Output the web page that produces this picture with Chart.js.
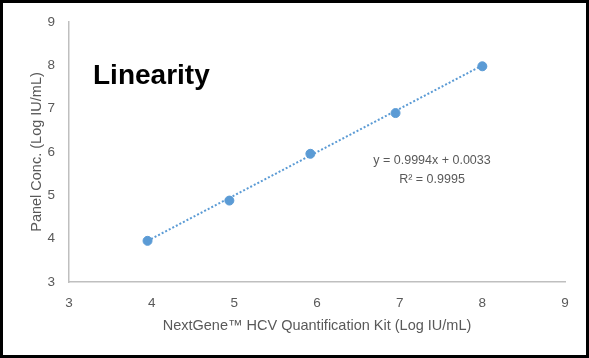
<!DOCTYPE html>
<html><head><meta charset="utf-8">
<script src="https://cdn.jsdelivr.net/npm/chart.js@4/dist/chart.umd.min.js"></script>
<style>html,body{margin:0;padding:0;background:#fff}#wrap{width:589px;height:358px;position:relative}</style>
</head><body><div id="wrap"><canvas id="c" width="589" height="358"></canvas></div>
<script>
const kitValues = [3.95, 4.94, 5.92, 6.95, 8.00];
const panelValues = [3.95, 4.88, 5.96, 6.90, 7.98];
const trendX = [3.95, 8.00];
const trendY = [3.95, 8.00];
const tickValues = [3, 4, 5, 6, 7, 8, 9];
const xTitle = 'NextGene™ HCV Quantification Kit (Log IU/mL)';
const yTitle = 'Panel Conc. (Log IU/mL)';
const chartTitle = 'Linearity';
const eqLines = ['y = 0.9994x + 0.0033', 'R² = 0.9995'];

const font = "'Liberation Sans', Arial, sans-serif";
const gray = '#595959';
const blue = '#5b9bd5';

const overlay = {
  id: 'overlay',
  afterDraw(chart) {
    const ctx = chart.ctx;
    const a = chart.chartArea;
    ctx.save();
    ctx.fillStyle = '#000';
    ctx.font = "bold 28px " + font;
    ctx.textBaseline = 'alphabetic';
    ctx.textAlign = 'left';
    ctx.fillText(chartTitle, 93, 84);
    ctx.fillStyle = gray;
    ctx.font = "12.5px " + font;
    ctx.textAlign = 'center';
    ctx.fillText(eqLines[0], 432, 164);
    ctx.fillText(eqLines[1], 432, 183);
    // axis titles
    ctx.font = "14.5px " + font;
    ctx.textBaseline = 'middle';
    ctx.fillText(xTitle, (a.left + a.right) / 2, 326);
    ctx.save();
    ctx.translate(37, 152);
    ctx.rotate(-Math.PI / 2);
    ctx.fillText(yTitle, 0, 0);
    ctx.restore();
    ctx.strokeStyle = '#000';
    ctx.lineWidth = 3;
    ctx.strokeRect(1.5, 1.5, 586, 355);
    ctx.restore();
  }
};

new Chart(document.getElementById('c'), {
  type: 'scatter',
  data: {
    datasets: [
      {
        type: 'line',
        data: trendX.map((x, i) => ({x, y: trendY[i]})),
        borderColor: blue,
        borderWidth: 2,
        borderDash: [2, 2],
        pointRadius: 0,
        fill: false
      },
      {
        data: kitValues.map((x, i) => ({x, y: panelValues[i]})),
        backgroundColor: blue,
        borderColor: blue,
        pointRadius: 4.5,
        pointHoverRadius: 4.5
      }
    ]
  },
  options: {
    responsive: false,
    animation: false,
    events: [],
    layout: {padding: {left: 0, top: 19, right: 24, bottom: 0}},
    plugins: {legend: {display: false}, tooltip: {enabled: false}},
    scales: {
      x: {
        type: 'linear', min: 3, max: 9,
        afterBuildTicks: s => { s.ticks = tickValues.map(v => ({value: v})); },
        afterFit: s => { s.height = 76; },
        grid: {display: false, drawTicks: false},
        border: {display: true, color: '#bfbfbf', width: 1.5},
        ticks: {color: gray, font: {family: font, size: 13.5}, padding: 13}
      },
      y: {
        type: 'linear', min: 3, max: 9,
        afterBuildTicks: s => { s.ticks = tickValues.map(v => ({value: v})); },
        afterFit: s => { s.width = 69; },
        grid: {display: false, drawTicks: false},
        border: {display: true, color: '#bfbfbf', width: 1.5},
        ticks: {color: gray, font: {family: font, size: 13.5}, padding: 14}
      }
    }
  },
  plugins: [overlay]
});
</script></body></html>
